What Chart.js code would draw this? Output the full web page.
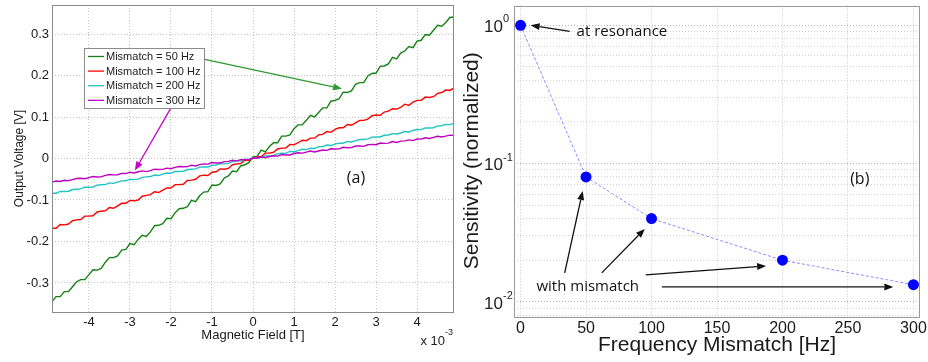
<!DOCTYPE html>
<html>
<head>
<meta charset="utf-8">
<script src="https://cdn.jsdelivr.net/npm/chart.js@4.4.1/dist/chart.umd.min.js"></script>
<style>
  body { margin: 0; background: #fff; }
  #wrap { position: relative; width: 928px; height: 362px; overflow: hidden; }
  canvas { position: absolute; top: 0; }
  #chartA { left: 0; }
  #chartB { left: 460px; }
</style>
</head>
<body>
<div id="wrap">
  <canvas id="chartA" width="470" height="362"></canvas>
  <canvas id="chartB" width="468" height="362"></canvas>
</div>
<script>
// panel (a): magnetic field in units of 1e-3 T
const field = [-4.9, -4.8, -4.7, -4.6, -4.5, -4.4, -4.3, -4.2, -4.1, -4.0,
  -3.9, -3.8, -3.7, -3.6, -3.5, -3.4, -3.3, -3.2, -3.1, -3.0,
  -2.9, -2.8, -2.7, -2.6, -2.5, -2.4, -2.3, -2.2, -2.1, -2.0,
  -1.9, -1.8, -1.7, -1.6, -1.5, -1.4, -1.3, -1.2, -1.1, -1.0,
  -0.9, -0.8, -0.7, -0.6, -0.5, -0.4, -0.3, -0.2, -0.1, 0,
  0.1, 0.2, 0.3, 0.4, 0.5, 0.6, 0.7, 0.8, 0.9, 1.0,
  1.1, 1.2, 1.3, 1.4, 1.5, 1.6, 1.7, 1.8, 1.9, 2.0,
  2.1, 2.2, 2.3, 2.4, 2.5, 2.6, 2.7, 2.8, 2.9, 3.0,
  3.1, 3.2, 3.3, 3.4, 3.5, 3.6, 3.7, 3.8, 3.9, 4.0,
  4.1, 4.2, 4.3, 4.4, 4.5, 4.6, 4.7, 4.8, 4.9];

const volt50 = [-0.345, -0.333, -0.333, -0.321, -0.321, -0.309, -0.297, -0.292, -0.292, -0.280,
  -0.268, -0.269, -0.265, -0.250, -0.239, -0.239, -0.235, -0.221, -0.219, -0.205,
  -0.208, -0.195, -0.185, -0.188, -0.177, -0.162, -0.161, -0.157, -0.144, -0.145,
  -0.131, -0.121, -0.120, -0.116, -0.101, -0.104, -0.090, -0.081, -0.080, -0.064,
  -0.065, -0.061, -0.047, -0.042, -0.030, -0.032, -0.018, -0.015, -0.010, 0.004,
  0.005, 0.020, 0.016, 0.029, 0.038, 0.038, 0.054, 0.054, 0.057, 0.072,
  0.081, 0.081, 0.092, 0.104, 0.100, 0.111, 0.122, 0.122, 0.138, 0.140,
  0.144, 0.160, 0.159, 0.163, 0.179, 0.183, 0.183, 0.199, 0.205, 0.206,
  0.222, 0.223, 0.228, 0.244, 0.240, 0.254, 0.259, 0.270, 0.267, 0.283,
  0.285, 0.299, 0.297, 0.309, 0.321, 0.319, 0.328, 0.340, 0.341];

const volt100 = [-0.168, -0.168, -0.159, -0.160, -0.158, -0.150, -0.148, -0.147, -0.139, -0.139,
  -0.138, -0.129, -0.127, -0.126, -0.118, -0.120, -0.114, -0.108, -0.108, -0.101,
  -0.102, -0.100, -0.091, -0.089, -0.087, -0.080, -0.082, -0.076, -0.071, -0.071,
  -0.063, -0.063, -0.062, -0.053, -0.052, -0.050, -0.042, -0.040, -0.041, -0.033,
  -0.032, -0.025, -0.026, -0.024, -0.015, -0.013, -0.012, -0.004, -0.005, 0.000,
  0.005, 0.004, 0.013, 0.013, 0.015, 0.023, 0.025, 0.025, 0.034, 0.033,
  0.038, 0.044, 0.043, 0.049, 0.049, 0.057, 0.058, 0.065, 0.063, 0.070,
  0.074, 0.074, 0.082, 0.080, 0.086, 0.092, 0.092, 0.095, 0.103, 0.105,
  0.104, 0.112, 0.114, 0.120, 0.119, 0.123, 0.131, 0.128, 0.136, 0.140,
  0.140, 0.148, 0.147, 0.149, 0.157, 0.159, 0.165, 0.164, 0.170];

const volt200 = [-0.0838, -0.0836, -0.0793, -0.0796, -0.0789, -0.0747, -0.0740, -0.0732, -0.0690, -0.0693,
  -0.0686, -0.0644, -0.0631, -0.0629, -0.0587, -0.0600, -0.0568, -0.0540, -0.0538, -0.0501,
  -0.0509, -0.0497, -0.0454, -0.0442, -0.0435, -0.0398, -0.0411, -0.0378, -0.0351, -0.0354,
  -0.0312, -0.0315, -0.0307, -0.0265, -0.0258, -0.0251, -0.0209, -0.0201, -0.0204, -0.0162,
  -0.0160, -0.0123, -0.0130, -0.0118, -0.0076, -0.0064, -0.0062, -0.0019, -0.0022, 0,
  0.0027, 0.0019, 0.0067, 0.0064, 0.0076, 0.0113, 0.0125, 0.0123, 0.0170, 0.0162,
  0.0189, 0.0221, 0.0214, 0.0246, 0.0243, 0.0285, 0.0287, 0.0325, 0.0312, 0.0349,
  0.0371, 0.0368, 0.0411, 0.0398, 0.0430, 0.0457, 0.0459, 0.0472, 0.0514, 0.0521,
  0.0518, 0.0560, 0.0568, 0.0600, 0.0592, 0.0614, 0.0651, 0.0639, 0.0676, 0.0698,
  0.0695, 0.0737, 0.0735, 0.0742, 0.0784, 0.0791, 0.0823, 0.0816, 0.0848];

const volt300 = [-0.0570, -0.0543, -0.0553, -0.0526, -0.0536, -0.0509, -0.0483, -0.0477, -0.0487, -0.0460,
  -0.0434, -0.0446, -0.0444, -0.0408, -0.0385, -0.0394, -0.0392, -0.0359, -0.0363, -0.0330,
  -0.0349, -0.0319, -0.0299, -0.0317, -0.0294, -0.0258, -0.0265, -0.0262, -0.0233, -0.0245,
  -0.0213, -0.0192, -0.0199, -0.0196, -0.0161, -0.0179, -0.0147, -0.0129, -0.0136, -0.0097,
  -0.0110, -0.0107, -0.0075, -0.0069, -0.0043, -0.0058, -0.0026, -0.0026, -0.0021, 0.0012,
  0.0006, 0.0041, 0.0020, 0.0049, 0.0067, 0.0057, 0.0096, 0.0086, 0.0086, 0.0121,
  0.0139, 0.0129, 0.0153, 0.0179, 0.0158, 0.0181, 0.0205, 0.0195, 0.0234, 0.0230,
  0.0233, 0.0271, 0.0259, 0.0261, 0.0300, 0.0302, 0.0293, 0.0331, 0.0340, 0.0333,
  0.0372, 0.0365, 0.0371, 0.0409, 0.0388, 0.0420, 0.0426, 0.0449, 0.0431, 0.0469,
  0.0466, 0.0498, 0.0483, 0.0509, 0.0536, 0.0520, 0.0538, 0.0564, 0.0558];

const seriesLabels = ["Mismatch = 50 Hz", "Mismatch = 100 Hz", "Mismatch = 200 Hz", "Mismatch = 300 Hz"];
const seriesColors = ["#148214", "#ff0000", "#22c4c4", "#c000c0"];
const fieldTicks = [-4, -3, -2, -1, 0, 1, 2, 3, 4];
const voltTicks = [-0.3, -0.2, -0.1, 0, 0.1, 0.2, 0.3];

// panel (b)
const freq = [0, 50, 100, 200, 300];
const sensitivity = [1, 0.08, 0.04, 0.02, 0.0133];
const freqTicks = [0, 50, 100, 150, 200, 250, 300];
const decadeTicks = [0.01, 0.1, 1];
const decadeExp = ["-2", "-1", "0"];

function toPoints(xs, ys) {
  return xs.map((x, i) => ({ x: x, y: ys[i] }));
}

function drawArrow(ctx, x1, y1, x2, y2, color, len, half) {
  const a = Math.atan2(y2 - y1, x2 - x1);
  const bx = x2 - len * Math.cos(a);
  const by = y2 - len * Math.sin(a);
  ctx.save();
  ctx.strokeStyle = color;
  ctx.fillStyle = color;
  ctx.lineWidth = 1.3;
  ctx.beginPath();
  ctx.moveTo(x1, y1);
  ctx.lineTo(bx, by);
  ctx.stroke();
  ctx.beginPath();
  ctx.moveTo(x2, y2);
  ctx.lineTo(bx + half * Math.sin(a), by - half * Math.cos(a));
  ctx.lineTo(bx - half * Math.sin(a), by + half * Math.cos(a));
  ctx.closePath();
  ctx.fill();
  ctx.restore();
}

// box frame + arrows + notes, all placed in data units
const notesPlugin = {
  id: "notes",
  afterDraw(chart, args, opts) {
    const ctx = chart.ctx;
    const xs = chart.scales.x;
    const ys = chart.scales.y;
    const area = chart.chartArea;
    ctx.save();
    ctx.strokeStyle = opts.frame;
    ctx.lineWidth = 1;
    ctx.strokeRect(Math.round(area.left) + 0.5, Math.round(area.top) + 0.5,
      Math.round(area.right - area.left) - 1, Math.round(area.bottom - area.top));
    ctx.restore();
    (opts.arrows || []).forEach((a) => {
      drawArrow(ctx, xs.getPixelForValue(a.from[0]), ys.getPixelForValue(a.from[1]),
        xs.getPixelForValue(a.to[0]), ys.getPixelForValue(a.to[1]), a.color, 9, 3.5);
    });
    (opts.texts || []).forEach((t) => {
      ctx.save();
      ctx.font = t.font;
      ctx.fillStyle = "#111";
      ctx.textAlign = t.align || "center";
      ctx.textBaseline = "middle";
      ctx.fillText(t.text, xs.getPixelForValue(t.at[0]), ys.getPixelForValue(t.at[1]));
      ctx.restore();
    });
    if (opts.after) opts.after(chart, ctx);
  },
};

function drawLegendA(chart, ctx) {
  const area = chart.chartArea;
  const x = area.left + 32;
  const y = area.top + 43;
  ctx.save();
  ctx.fillStyle = "#fff";
  ctx.fillRect(x, y, 120, 60);
  ctx.strokeStyle = "#8c8c8c";
  ctx.lineWidth = 1;
  ctx.strokeRect(x + 0.5, y + 0.5, 120, 60);
  ctx.font = "11px 'Liberation Sans', Arial, sans-serif";
  ctx.textBaseline = "middle";
  seriesLabels.forEach((label, i) => {
    const ry = y + 8.5 + i * 14.6;
    ctx.strokeStyle = seriesColors[i];
    ctx.lineWidth = 1.3;
    ctx.beginPath();
    ctx.moveTo(x + 4, ry);
    ctx.lineTo(x + 20, ry);
    ctx.stroke();
    ctx.fillStyle = "#222";
    ctx.fillText(label, x + 22, ry + 0.5);
  });
  // x 10^-3 multiplier
  ctx.textAlign = "right";
  ctx.font = "13px 'Liberation Sans', Arial, sans-serif";
  ctx.fillText("x 10", area.right - 9, 341);
  ctx.textAlign = "left";
  ctx.font = "9px 'Liberation Sans', Arial, sans-serif";
  ctx.fillText("-3", area.right - 9, 333);
  ctx.restore();
}

function drawDecadeLabels(chart, ctx) {
  const ys = chart.scales.y;
  const right = chart.chartArea.left - 11;
  ctx.save();
  ctx.fillStyle = "#222";
  ctx.textBaseline = "middle";
  decadeTicks.forEach((v, i) => {
    const y = ys.getPixelForValue(v);
    ctx.textAlign = "right";
    ctx.font = "17px 'Liberation Sans', Arial, sans-serif";
    ctx.fillText("10", right, y + 2);
    ctx.textAlign = "left";
    ctx.font = "11px 'Liberation Sans', Arial, sans-serif";
    ctx.fillText(decadeExp[i], right, y - 6);
  });
  ctx.restore();
}

const gridDot = { color: "#c4c4c4", drawTicks: false };
const tickFontA = { family: "'Liberation Sans', Arial, sans-serif", size: 13 };

new Chart(document.getElementById("chartA"), {
  type: "line",
  data: {
    datasets: [volt50, volt100, volt200, volt300].map((vals, i) => ({
      label: seriesLabels[i],
      data: toPoints(field, vals),
      borderColor: seriesColors[i],
      borderWidth: 1.4,
      pointRadius: 0,
      tension: 0,
      fill: false,
      order: 3 - i,
    })),
  },
  options: {
    responsive: false,
    animation: false,
    layout: { padding: { top: 5, right: 16, left: 0, bottom: 0 } },
    plugins: {
      legend: { display: false },
      tooltip: { enabled: false },
      notes: {
        frame: "#8a8a8a",
        arrows: [
          { from: [-1.32, 0.242], to: [2.17, 0.168], color: "#2f9a2f" },
          { from: [-1.93, 0.134], to: [-2.88, -0.029], color: "#c800c8" },
        ],
        texts: [{ text: "(a)", at: [2.51, -0.048], font: "16px 'Open Sans', sans-serif" }],
        after: drawLegendA,
      },
    },
    scales: {
      x: {
        type: "linear",
        min: -4.9,
        max: 4.9,
        afterBuildTicks: (s) => { s.ticks = fieldTicks.map((v) => ({ value: v })); },
        afterFit: (s) => { s.height = 50; s.paddingLeft = 0; s.paddingRight = 0; },
        grid: gridDot,
        border: { display: false, dash: [1, 2] },
        ticks: { font: tickFontA, color: "#1a1a1a", padding: 3, maxRotation: 0 },
        title: {
          display: true,
          text: "Magnetic Field [T]",
          color: "#1a1a1a",
          font: tickFontA,
          padding: { top: 0, bottom: 19 },
        },
      },
      y: {
        type: "linear",
        min: -0.37,
        max: 0.37,
        afterBuildTicks: (s) => { s.ticks = voltTicks.map((v) => ({ value: v })); },
        afterFit: (s) => { s.width = 52; s.paddingTop = 0; s.paddingBottom = 0; },
        grid: gridDot,
        border: { display: false, dash: [1, 2] },
        ticks: { font: tickFontA, color: "#1a1a1a", padding: 3, callback: (v) => String(Math.round(v * 10) / 10) },
        title: {
          display: true,
          text: "Output Voltage [V]",
          color: "#1a1a1a",
          font: { family: "'Liberation Sans', Arial, sans-serif", size: 12 },
          padding: { top: 12, bottom: 0 },
        },
      },
    },
  },
  plugins: [notesPlugin],
});

const tickFontB = { family: "'Liberation Sans', Arial, sans-serif", size: 16 };
const noteFont = "15px 'Open Sans', sans-serif";

new Chart(document.getElementById("chartB"), {
  type: "line",
  data: {
    datasets: [
      {
        data: toPoints(freq, sensitivity),
        borderColor: "#8c8cff",
        borderWidth: 1,
        borderDash: [3, 2],
        pointRadius: 5.5,
        pointBackgroundColor: "#0000ff",
        pointBorderColor: "#0000ff",
        pointBorderWidth: 0,
        tension: 0,
        fill: false,
        clip: false,
      },
    ],
  },
  options: {
    responsive: false,
    animation: false,
    layout: { padding: { top: 5, right: 8, left: 0, bottom: 0 } },
    plugins: {
      legend: { display: false },
      tooltip: { enabled: false },
      notes: {
        frame: "#999",
        arrows: [
          { from: [37.5, 0.905], to: [7.7, 1.0], color: "#111" },
          { from: [33.7, 0.0162], to: [47.4, 0.0633], color: "#111" },
          { from: [62, 0.0162], to: [94.9, 0.0337], color: "#111" },
          { from: [95.6, 0.01566], to: [187.5, 0.0182], color: "#111" },
          { from: [107.9, 0.01283], to: [284.6, 0.01283], color: "#111" },
        ],
        texts: [
          { text: "at resonance", at: [42.8, 0.905], font: noteFont, align: "left" },
          { text: "with mismatch", at: [51.3, 0.01283], font: noteFont },
          { text: "(b)", at: [259, 0.0773], font: "16px 'Open Sans', sans-serif" },
        ],
        after: drawDecadeLabels,
      },
    },
    scales: {
      x: {
        type: "linear",
        min: -5,
        max: 305,
        afterBuildTicks: (s) => { s.ticks = freqTicks.map((v) => ({ value: v })); },
        afterFit: (s) => { s.height = 46; s.paddingLeft = 0; s.paddingRight = 0; },
        grid: { color: "#c8c8c8", drawTicks: false },
        border: { display: false, dash: [1, 2] },
        ticks: { font: tickFontB, color: "#1a1a1a", padding: 3, maxRotation: 0 },
        title: {
          display: true,
          text: "Frequency Mismatch [Hz]",
          color: "#1a1a1a",
          font: { family: "'Liberation Sans', Arial, sans-serif", size: 21 },
          padding: { top: 0, bottom: 4 },
        },
      },
      y: {
        type: "logarithmic",
        min: 0.0079,
        max: 1.39,
        afterBuildTicks: (s) => {
          const t = [];
          [0.001, 0.01, 0.1].forEach((d) => {
            for (let k = 1; k <= 9; k++) {
              const v = d * k * 10;
              if (v >= 0.0079 && v <= 1.39) t.push({ value: v, major: k === 1 });
            }
          });
          t.push({ value: 0.008, major: false }, { value: 0.009, major: false });
          s.ticks = t;
        },
        afterFit: (s) => { s.width = 54; s.paddingTop = 0; s.paddingBottom = 0; },
        grid: {
          drawTicks: false,
          color: (c) => (c.tick && c.tick.major ? "#b4b4b4" : "#d2d2d2"),
        },
        border: { display: false, dash: [1, 2] },
        ticks: { display: false },
        title: {
          display: true,
          text: "Sensitivity (normalized)",
          color: "#1a1a1a",
          font: { family: "'Liberation Sans', Arial, sans-serif", size: 21 },
          padding: { top: 0, bottom: 0 },
        },
      },
    },
  },
  plugins: [notesPlugin],
});
</script>
</body>
</html>
